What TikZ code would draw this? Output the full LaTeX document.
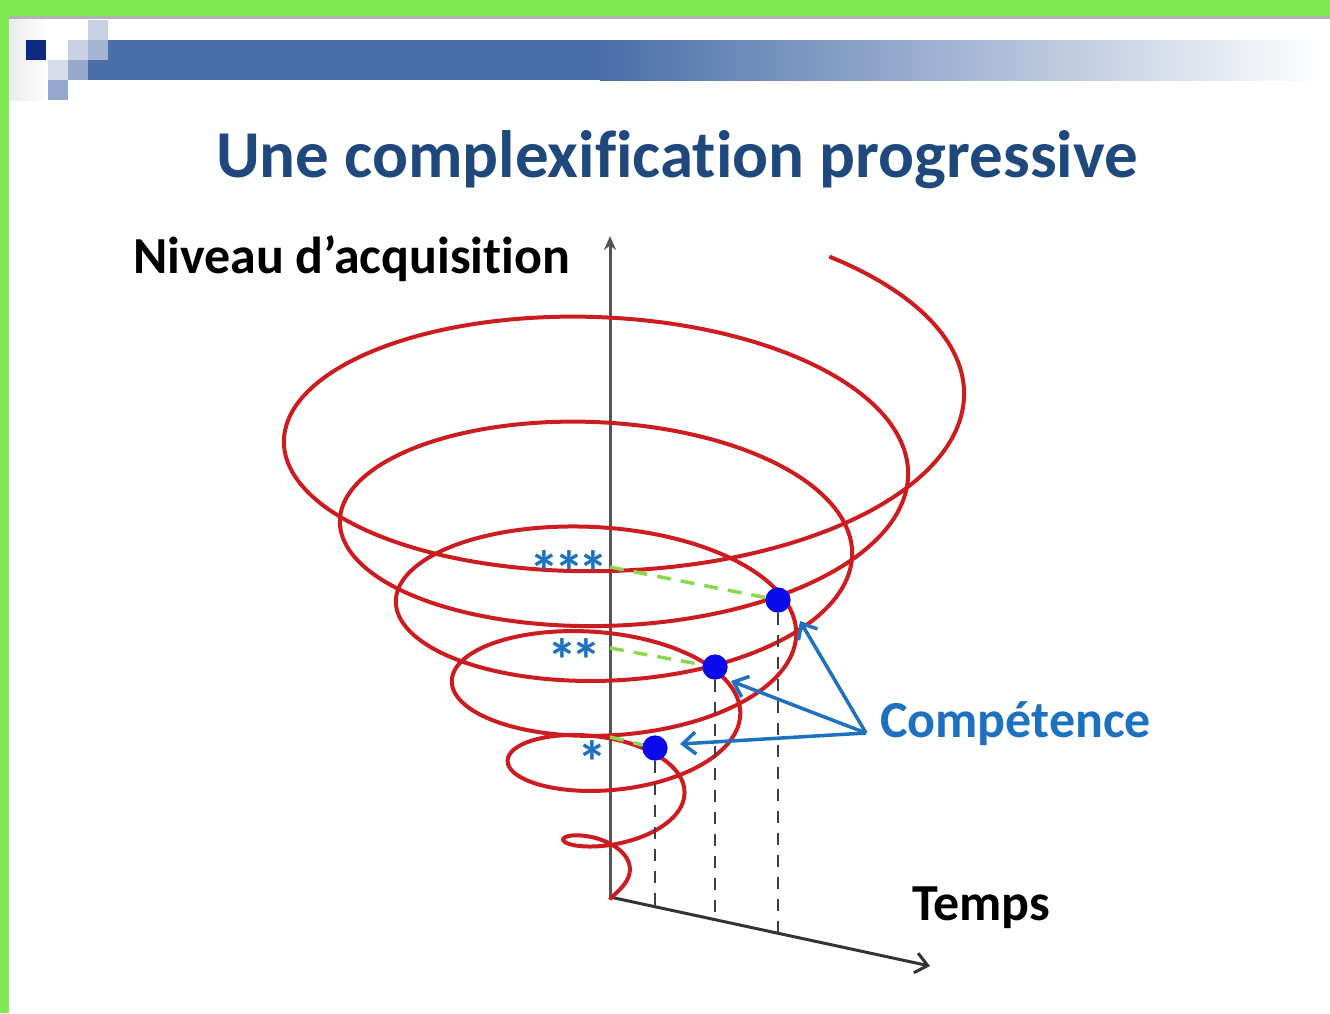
\documentclass[tikz,border=0pt]{standalone}
\usepackage{fontspec}
\setmainfont{Carlito}[Ligatures=NoCommon]
\usetikzlibrary{arrows.meta}
\definecolor{framegreen}{RGB}{128,234,82}
\definecolor{barblue}{RGB}{74,110,168}
\definecolor{titleblue}{RGB}{31,73,125}
\definecolor{spiralred}{RGB}{205,28,32}
\definecolor{compblue}{RGB}{30,112,192}
\definecolor{dotblue}{RGB}{10,10,235}
\definecolor{guidegreen}{RGB}{140,215,80}
\definecolor{axisgrey}{RGB}{85,85,85}
\definecolor{sqdark}{RGB}{15,40,130}
\definecolor{sqlight}{RGB}{200,208,226}
\definecolor{sqlighter}{RGB}{215,220,232}
\definecolor{sqmid}{RGB}{165,180,210}
\definecolor{sqmidtwo}{RGB}{150,168,204}
\tikzset{
  axisline/.style={draw=axisgrey, line width=3pt},
  timeline/.style={draw=black!80, line width=3pt},
  spiralline/.style={draw=spiralred, line width=4pt},
  greendash/.style={draw=guidegreen, line width=3.5pt, dash pattern=on 14pt off 10pt},
  blackdash/.style={draw=black!75, line width=2.2pt, dash pattern=on 12pt off 10pt},
  dotnode/.style={circle, fill=dotblue, inner sep=0pt, minimum size=25pt},
  comparrow/.style={draw=compblue, line width=3.5pt, -{Straight Barb[length=13pt,width=22pt,line width=3.5pt]}},
  stars/.style={text=compblue, font=\bfseries\fontsize{60}{60}\selectfont, inner sep=0pt},
  label/.style={font=\bfseries\fontsize{52}{52}\selectfont, inner sep=0pt}
}
\begin{document}
\begin{tikzpicture}[x=1pt,y=-1pt]
\useasboundingbox (0,0) rectangle (1330,1013);
\fill[white] (0,0) rectangle (1330,1013);
% frame and header
\fill[framegreen] (0,0) rectangle (1330,16);
\fill[framegreen] (0,0) rectangle (9,1013);
\fill[black!30] (9,16) rectangle (1330,19);
\shade[left color=black!8, right color=white] (9,19) rectangle (50,100);
\fill[barblue] (88,40) rectangle (600,80);
\shade[left color=barblue, right color=white] (600,40) rectangle (1325,80);
\fill[sqdark] (26,40) rectangle (46,60);
\fill[sqlight] (88,20) rectangle (108,40);
\fill[sqlight] (68,40) rectangle (88,60);
\fill[sqmid] (88,40) rectangle (108,60);
\fill[sqlighter] (48,60) rectangle (68,80);
\fill[sqmidtwo] (68,60) rectangle (88,80);
\fill[sqmidtwo] (48,80) rectangle (68,100);
% title
\node[anchor=base, inner sep=0pt, text=titleblue, font=\bfseries\fontsize{67}{67}\selectfont] (title) at (677,177) {Une complexification progressive};
% axes
\coordinate (O) at (610,897);
\coordinate (ytop) at (610,236);
\coordinate (xend) at (930,966);
\draw[axisline, -{Stealth[length=14pt,width=12pt]}] (O) -- (ytop);
\draw[timeline, -{Straight Barb[length=12pt,width=20pt,line width=3pt]}] (O) -- (xend);
\node[label, anchor=base west] (niveau) at (133,273) {Niveau d’acquisition};
\node[label, anchor=base west] (temps) at (912,920) {Temps};
% spiral
\draw[spiralline] plot[domain=-1.5:4.897, samples=800, smooth, variable=\u]
  ({610-(88+56*\u)*sin(360*\u)}, {778-80*\u-0.45*(88+56*\u)*cos(360*\u)});
% competence points
\node[dotnode] (d1) at (655,748) {};
\node[dotnode] (d2) at (715,667) {};
\node[dotnode] (d3) at (778,600) {};
\coordinate (a1) at (610,737);
\coordinate (a2) at (610,648);
\coordinate (a3) at (610,567);
\coordinate (b1) at (655,907);
\coordinate (b2) at (715,920);
\coordinate (b3) at (778,933);
\draw[greendash] (a3) -- (d3);
\draw[greendash] (a2) -- (d2);
\draw[greendash] (a1) -- (d1);
\draw[blackdash] (d1) -- (b1);
\draw[blackdash] (d2) -- (b2);
\draw[blackdash] (d3) -- (b3);
\node[dotnode] at (d1) {};
\node[dotnode] at (d2) {};
\node[dotnode] at (d3) {};
\node[stars, anchor=base east] (s3) at (609,593) {*\kern-5pt*\kern-5pt*};
\node[stars, anchor=base east] (s2) at (602,681) {*\kern-5pt*};
\node[stars, anchor=base east] (s1) at (608,783) {*};
% competence label and arrows
\node[label, text=compblue, anchor=base west] (comp) at (880,737) {Compétence};
\coordinate (cj) at (866,733);
\coordinate (t1) at (680,744);
\coordinate (t2) at (731,681);
\coordinate (t3) at (800,621);
\draw[comparrow] (cj) -- (t3);
\draw[comparrow] (cj) -- (t2);
\draw[comparrow] (cj) -- (t1);
\end{tikzpicture}
\end{document}
